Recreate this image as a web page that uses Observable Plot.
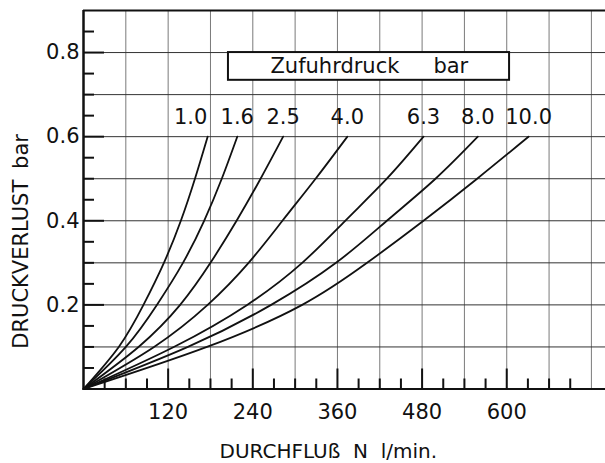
<!DOCTYPE html>
<html>
<head>
<meta charset="utf-8">
<script src="https://cdn.jsdelivr.net/npm/d3@7"></script>
<script src="https://cdn.jsdelivr.net/npm/@observablehq/plot@0.6"></script>
<style>
  html, body { margin: 0; padding: 0; background: #fff; }
  #chart { width: 605px; height: 463px; }
</style>
</head>
<body>
<div id="chart"></div>
<script>
// Supply pressures (bar) — one curve each
const supplyPressures = ["1.0", "1.6", "2.5", "4.0", "6.3", "8.0", "10.0"];
// Pressure-drop levels (bar) at which the flow was read
const dropLevels = [0, 0.1, 0.2, 0.3, 0.4, 0.5, 0.6];
// Flow (Nl/min) at each pressure-drop level, per supply pressure
const flow_1_0  = [0, 50, 85, 114, 138, 158, 176];
const flow_1_6  = [0, 60, 104, 141, 171, 196, 218];
const flow_2_5  = [0, 78, 137, 180, 217, 251, 283];
const flow_4_0  = [0, 100, 176, 234, 282, 329, 374];
const flow_6_3  = [0, 128, 232, 310, 371, 430, 482];
const flow_8_0  = [0, 148, 266, 358, 430, 499, 559];
const flow_10_0 = [0, 175, 310, 402, 482, 558, 631];
// Axis tick labels
const xTickLabels = [120, 240, 360, 480, 600];
const yTickLabels = [0.2, 0.4, 0.6, 0.8];
// Titles
const xTitle = "DURCHFLUß\u00a0\u00a0N\u00a0\u00a0l/min.";
const yTitle = "DRUCKVERLUST\u00a0\u2009bar";
const legendTitle = "Zufuhrdruck";
const legendUnit = "bar";

const flows = [flow_1_0, flow_1_6, flow_2_5, flow_4_0, flow_6_3, flow_8_0, flow_10_0];
const rows = [];
supplyPressures.forEach((p, i) => {
  flows[i].forEach((q, j) => rows.push({pressure: p, flow: q, drop: dropLevels[j]}));
});
const ends = supplyPressures.map((p, i) => ({pressure: p, flow: flows[i][flows[i].length - 1], drop: dropLevels[dropLevels.length - 1]}));

const W = 605, H = 463;
const mL = 83, mR = 0, mT = 10, mB = 74.5;
const xMax = 740, yMax = 0.9;
const pxX = (W - mL - mR) / xMax;     // px per l/min
const pxY = (H - mT - mB) / yMax;     // px per bar
const font = "DejaVu Sans";

const xGrid = d3.range(60, 740, 60);
const yGrid = d3.range(1, 9).map(d => d / 10);
const xMinorTicks = d3.range(30, 740, 30).filter(d => d % 120 !== 0);
const yMinorTicks = d3.range(1, 18).map(d => d / 20).filter(d => Math.round(d * 100) % 20 !== 0);

const chart = Plot.plot({
  width: W,
  height: H,
  marginLeft: mL,
  marginRight: mR,
  marginTop: mT,
  marginBottom: mB,
  x: {domain: [0, xMax], axis: null},
  y: {domain: [0, yMax], axis: null},
  style: {fontFamily: font, fontSize: "21px", background: "#fff", color: "#111"},
  marks: [
    // grid
    Plot.ruleX(xGrid, {stroke: "#7a7a7a", strokeWidth: 1}),
    Plot.ruleY(yGrid, {stroke: "#333", strokeWidth: 1}),
    // inward ticks, x axis
    Plot.ruleX(xMinorTicks, {x: d => d, y1: 0, y2: 10 / pxY, stroke: "#111", strokeWidth: 2}),
    Plot.ruleX(xTickLabels, {x: d => d, y1: 0, y2: 20 / pxY, stroke: "#111", strokeWidth: 2}),
    // inward ticks, y axis
    Plot.ruleY(yMinorTicks, {y: d => d, x1: 0, x2: 11 / pxX, stroke: "#111", strokeWidth: 2}),
    Plot.ruleY(yTickLabels, {y: d => d, x1: 0, x2: 21 / pxX, stroke: "#111", strokeWidth: 2}),
    // frame lines
    Plot.ruleY([yMax], {stroke: "#111", strokeWidth: 2}),
    Plot.ruleY([0], {stroke: "#111", strokeWidth: 2.2}),
    Plot.ruleX([0], {stroke: "#111", strokeWidth: 2.5}),
    // curves
    Plot.line(rows, {x: "flow", y: "drop", z: "pressure", curve: "natural", stroke: "#111", strokeWidth: 1.8}),
    // legend box
    Plot.rect([{x1: 205.5, x2: 604, y1: 0.734, y2: 0.8}], {x1: "x1", x2: "x2", y1: "y1", y2: "y2", fill: "#fff", stroke: "#111", strokeWidth: 2}),
    Plot.text([legendTitle], {x: 265, y: 0.767, text: d => d, textAnchor: "start", fontSize: 21, fill: "#111"}),
    Plot.text([legendUnit], {x: 496, y: 0.767, text: d => d, textAnchor: "start", fontSize: 21, fill: "#111"}),
    // curve labels
    Plot.text(ends.slice(0, 1), {x: "flow", y: "drop", text: "pressure", dy: -19, dx: -17, fontSize: 21, fill: "#111"}),
    Plot.text(ends.slice(1), {x: "flow", y: "drop", text: "pressure", dy: -19, fontSize: 21, fill: "#111"}),
    // tick labels
    Plot.text(xTickLabels, {x: d => d, y: 0, text: d => String(d), dy: 23, fontSize: 21, fill: "#111"}),
    Plot.text(yTickLabels, {x: 0, y: d => d, text: d => d.toFixed(1), dx: -4, textAnchor: "end", fontSize: 21, fill: "#111"}),
    // axis titles
    Plot.text([xTitle], {x: 347, y: 0, text: d => d, dy: 63, fontSize: 20, fill: "#111"}),
    Plot.text([yTitle], {x: 0, y: 0.351, text: d => d, dx: -62, rotate: -90, fontSize: 21, fill: "#111"})
  ]
});
document.getElementById("chart").appendChild(chart);
</script>
</body>
</html>
